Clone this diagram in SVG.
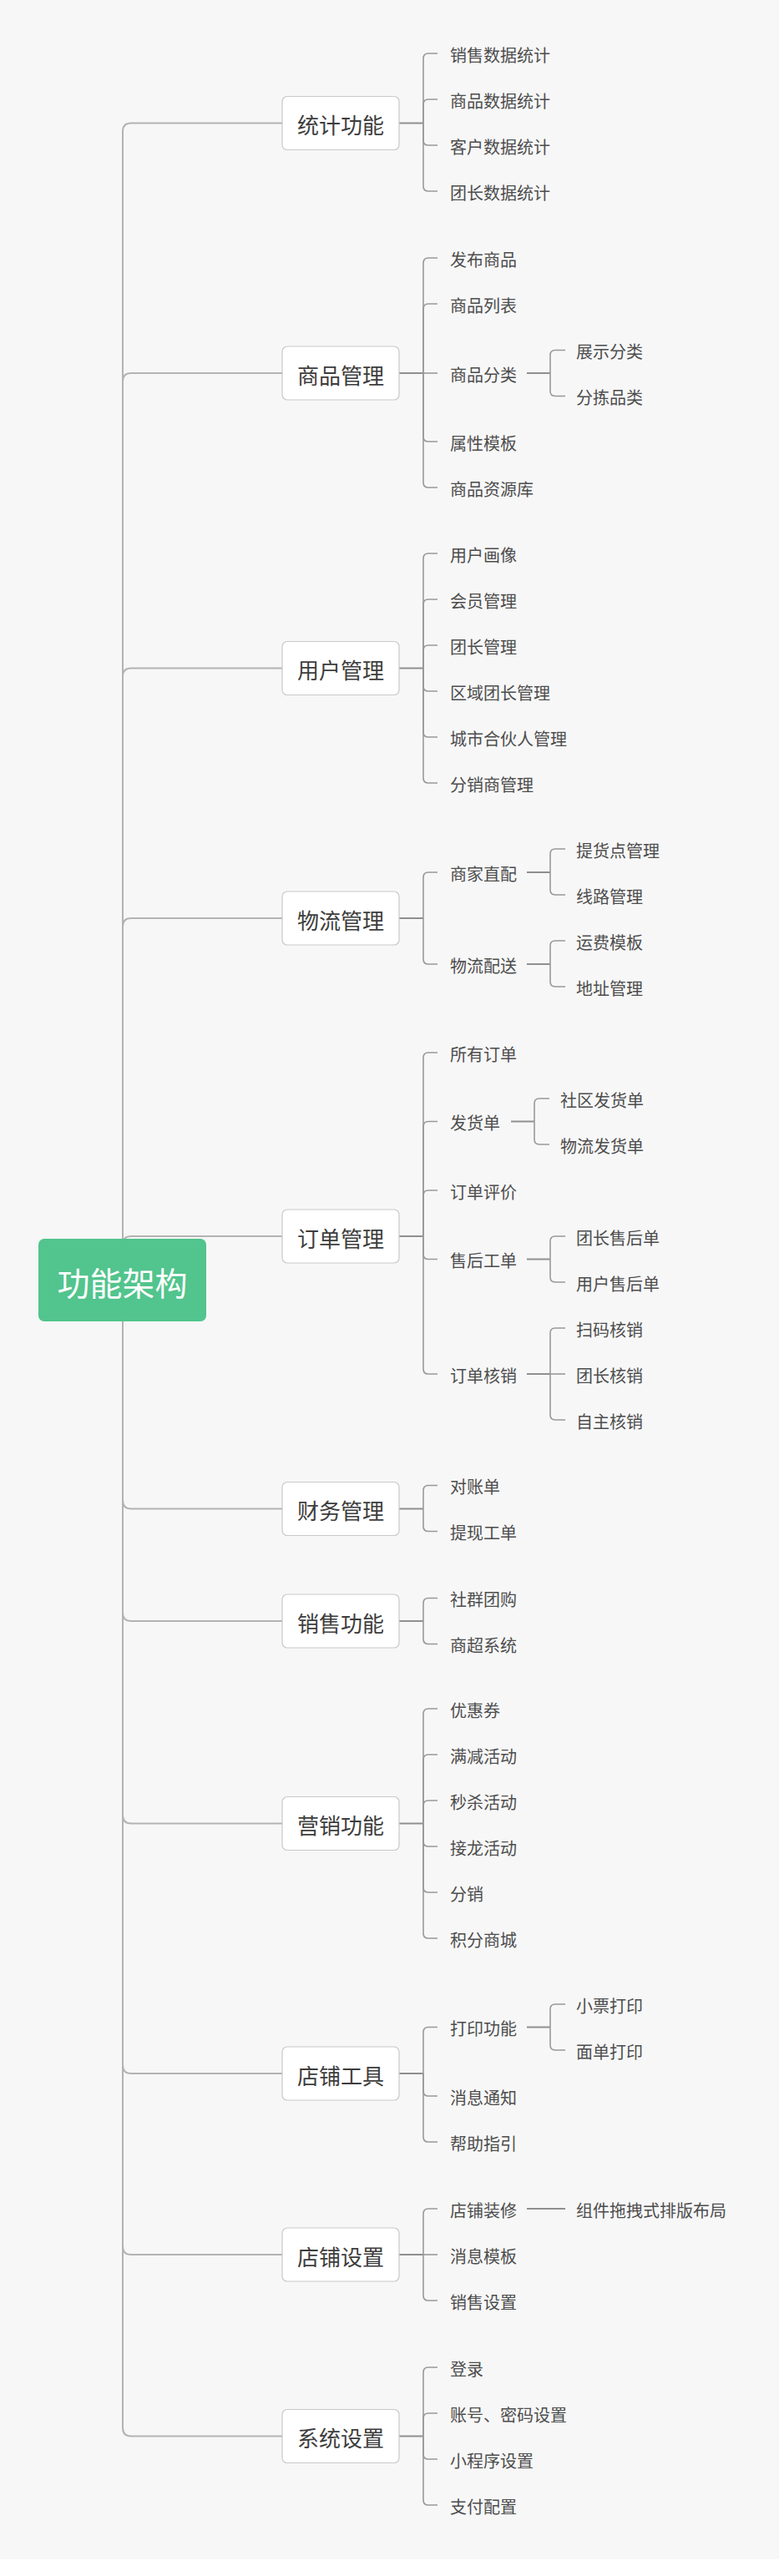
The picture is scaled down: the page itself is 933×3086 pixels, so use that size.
<svg xmlns="http://www.w3.org/2000/svg" width="933" height="3086" viewBox="0 0 933 3086">
<style>
.bg{fill:#f7f7f7}
.trunk{fill:none;stroke:#b3b3b3;stroke-width:2}
.br{fill:none;stroke:#8f8f8f;stroke-width:2}
.hk{fill:none;stroke:#999;stroke-width:1.6}
.box{fill:#fff;stroke:#c9c9c9;stroke-width:1.2}
.root{fill:#52c48d}
.mt{font-family:"Noto Sans CJK SC","Noto Sans",sans-serif;font-size:26px;fill:#3d3d3d;text-anchor:middle}
.lt{font-family:"Noto Sans CJK SC","Noto Sans",sans-serif;font-size:20px;fill:#4d4d4d}
.rt{font-family:"Noto Sans CJK SC","Noto Sans",sans-serif;font-size:39px;fill:#fff;text-anchor:middle}
</style>
<rect x="0" y="0" width="933" height="3086" fill="#fff"/>
<rect class="bg" x="0" y="0" width="933" height="3066"/>
<g id="connectors">
<g class="trunk">
<path d="M147 1533V157.5Q147 147.5 157 147.5H338"/>
<path d="M147 1533V457Q147 447 157 447H338"/>
<path d="M147 1533V810.5Q147 800.5 157 800.5H338"/>
<path d="M147 1533V1110Q147 1100 157 1100H338"/>
<path d="M147 1533V1491Q147 1481 157 1481H338"/>
<path d="M147 1533V1797.5Q147 1807.5 157 1807.5H338"/>
<path d="M147 1533V1932Q147 1942 157 1942H338"/>
<path d="M147 1533V2174.5Q147 2184.5 157 2184.5H338"/>
<path d="M147 1533V2474Q147 2484 157 2484H338"/>
<path d="M147 1533V2691Q147 2701 157 2701H338"/>
<path d="M147 1533V2908.5Q147 2918.5 157 2918.5H338"/>
</g>
<g class="br">
<path d="M478 147.5H507"/><path d="M478 447H507"/><path d="M478 800.5H507"/><path d="M478 1100H507"/><path d="M478 1481H507"/><path d="M478 1807.5H507"/><path d="M478 1942H507"/><path d="M478 2184.5H507"/><path d="M478 2484H507"/><path d="M478 2701H507"/><path d="M478 2918.5H507"/>
<path d="M631 447H659"/><path d="M631 1045H659"/><path d="M631 1155H659"/><path d="M612 1343.5H640"/><path d="M631 1508.5H659"/><path d="M631 1646H659"/><path d="M631 2428.5H659"/><path d="M631 2646H677"/>
</g>
<g class="hk">
<path d="M507 147.5V70Q507 64 513 64H524"/>
<path d="M507 147.5V125Q507 119 513 119H524"/>
<path d="M507 147.5V168Q507 174 513 174H524"/>
<path d="M507 147.5V223Q507 229 513 229H524"/>
<path d="M507 447V315Q507 309 513 309H524"/>
<path d="M507 447V370Q507 364 513 364H524"/>
<path d="M507 447H524"/>
<path d="M507 447V523Q507 529 513 529H524"/>
<path d="M507 447V578Q507 584 513 584H524"/>
<path d="M659 447V425.5Q659 419.5 665 419.5H677"/>
<path d="M659 447V468.5Q659 474.5 665 474.5H677"/>
<path d="M507 800.5V669Q507 663 513 663H524"/>
<path d="M507 800.5V724Q507 718 513 718H524"/>
<path d="M507 800.5V779Q507 773 513 773H524"/>
<path d="M507 800.5V822Q507 828 513 828H524"/>
<path d="M507 800.5V877Q507 883 513 883H524"/>
<path d="M507 800.5V932Q507 938 513 938H524"/>
<path d="M507 1100V1051Q507 1045 513 1045H524"/>
<path d="M507 1100V1149Q507 1155 513 1155H524"/>
<path d="M659 1045V1023Q659 1017 665 1017H677"/>
<path d="M659 1045V1066Q659 1072 665 1072H677"/>
<path d="M659 1155V1133Q659 1127 665 1127H677"/>
<path d="M659 1155V1176Q659 1182 665 1182H677"/>
<path d="M507 1481V1267Q507 1261 513 1261H524"/>
<path d="M507 1481V1349.5Q507 1343.5 513 1343.5H524"/>
<path d="M507 1481V1432Q507 1426 513 1426H524"/>
<path d="M507 1481V1502.5Q507 1508.5 513 1508.5H524"/>
<path d="M507 1481V1640Q507 1646 513 1646H524"/>
<path d="M640 1343.5V1322Q640 1316 646 1316H658"/>
<path d="M640 1343.5V1365Q640 1371 646 1371H658"/>
<path d="M659 1508.5V1487Q659 1481 665 1481H677"/>
<path d="M659 1508.5V1530Q659 1536 665 1536H677"/>
<path d="M659 1646V1597Q659 1591 665 1591H677"/>
<path d="M659 1646H677"/>
<path d="M659 1646V1695Q659 1701 665 1701H677"/>
<path d="M507 1807.5V1785.5Q507 1779.5 513 1779.5H524"/>
<path d="M507 1807.5V1828.5Q507 1834.5 513 1834.5H524"/>
<path d="M507 1942V1920.5Q507 1914.5 513 1914.5H524"/>
<path d="M507 1942V1963.5Q507 1969.5 513 1969.5H524"/>
<path d="M507 2184.5V2053Q507 2047 513 2047H524"/>
<path d="M507 2184.5V2108Q507 2102 513 2102H524"/>
<path d="M507 2184.5V2163Q507 2157 513 2157H524"/>
<path d="M507 2184.5V2206Q507 2212 513 2212H524"/>
<path d="M507 2184.5V2261Q507 2267 513 2267H524"/>
<path d="M507 2184.5V2316Q507 2322 513 2322H524"/>
<path d="M507 2484V2434.5Q507 2428.5 513 2428.5H524"/>
<path d="M507 2484V2505Q507 2511 513 2511H524"/>
<path d="M507 2484V2560Q507 2566 513 2566H524"/>
<path d="M659 2428.5V2407Q659 2401 665 2401H677"/>
<path d="M659 2428.5V2450Q659 2456 665 2456H677"/>
<path d="M507 2701V2652Q507 2646 513 2646H524"/>
<path d="M507 2701H524"/>
<path d="M507 2701V2750Q507 2756 513 2756H524"/>
<path d="M507 2918.5V2842Q507 2836 513 2836H524"/>
<path d="M507 2918.5V2897Q507 2891 513 2891H524"/>
<path d="M507 2918.5V2940Q507 2946 513 2946H524"/>
<path d="M507 2918.5V2995Q507 3001 513 3001H524"/>
</g>
</g>
<g id="root"><rect class="root" x="46" y="1484" width="201" height="99" rx="7"/><text class="rt" x="146.5" y="1552">功能架构</text></g>
<g id="n-tongji"><rect class="box" x="338" y="115.5" width="140" height="64" rx="6"/><text class="mt" x="408" y="160">统计功能</text>
<text class="lt" x="539" y="73.5">销售数据统计</text><text class="lt" x="539" y="128.5">商品数据统计</text><text class="lt" x="539" y="183.5">客户数据统计</text><text class="lt" x="539" y="238.5">团长数据统计</text></g>
<g id="n-shangpin"><rect class="box" x="338" y="415" width="140" height="64" rx="6"/><text class="mt" x="408" y="459.5">商品管理</text>
<text class="lt" x="539" y="318.5">发布商品</text><text class="lt" x="539" y="373.5">商品列表</text><text class="lt" x="539" y="456.5">商品分类</text><text class="lt" x="539" y="538.5">属性模板</text><text class="lt" x="539" y="593.5">商品资源库</text>
<text class="lt" x="690" y="429">展示分类</text><text class="lt" x="690" y="484">分拣品类</text></g>
<g id="n-yonghu"><rect class="box" x="338" y="768.5" width="140" height="64" rx="6"/><text class="mt" x="408" y="813">用户管理</text>
<text class="lt" x="539" y="672.5">用户画像</text><text class="lt" x="539" y="727.5">会员管理</text><text class="lt" x="539" y="782.5">团长管理</text><text class="lt" x="539" y="837.5">区域团长管理</text><text class="lt" x="539" y="892.5">城市合伙人管理</text><text class="lt" x="539" y="947.5">分销商管理</text></g>
<g id="n-wuliu"><rect class="box" x="338" y="1068" width="140" height="64" rx="6"/><text class="mt" x="408" y="1112.5">物流管理</text>
<text class="lt" x="539" y="1054.5">商家直配</text><text class="lt" x="539" y="1164.5">物流配送</text>
<text class="lt" x="690" y="1026.5">提货点管理</text><text class="lt" x="690" y="1081.5">线路管理</text><text class="lt" x="690" y="1136.5">运费模板</text><text class="lt" x="690" y="1191.5">地址管理</text></g>
<g id="n-dingdan"><rect class="box" x="338" y="1449" width="140" height="64" rx="6"/><text class="mt" x="408" y="1493.5">订单管理</text>
<text class="lt" x="539" y="1270.5">所有订单</text><text class="lt" x="539" y="1353">发货单</text><text class="lt" x="539" y="1435.5">订单评价</text><text class="lt" x="539" y="1518">售后工单</text><text class="lt" x="539" y="1655.5">订单核销</text>
<text class="lt" x="671" y="1325.5">社区发货单</text><text class="lt" x="671" y="1380.5">物流发货单</text>
<text class="lt" x="690" y="1490.5">团长售后单</text><text class="lt" x="690" y="1545.5">用户售后单</text>
<text class="lt" x="690" y="1600.5">扫码核销</text><text class="lt" x="690" y="1655.5">团长核销</text><text class="lt" x="690" y="1710.5">自主核销</text></g>
<g id="n-caiwu"><rect class="box" x="338" y="1775.5" width="140" height="64" rx="6"/><text class="mt" x="408" y="1820">财务管理</text>
<text class="lt" x="539" y="1789">对账单</text><text class="lt" x="539" y="1844">提现工单</text></g>
<g id="n-xiaoshou"><rect class="box" x="338" y="1910" width="140" height="64" rx="6"/><text class="mt" x="408" y="1954.5">销售功能</text>
<text class="lt" x="539" y="1924">社群团购</text><text class="lt" x="539" y="1979">商超系统</text></g>
<g id="n-yingxiao"><rect class="box" x="338" y="2152.5" width="140" height="64" rx="6"/><text class="mt" x="408" y="2197">营销功能</text>
<text class="lt" x="539" y="2056.5">优惠券</text><text class="lt" x="539" y="2111.5">满减活动</text><text class="lt" x="539" y="2166.5">秒杀活动</text><text class="lt" x="539" y="2221.5">接龙活动</text><text class="lt" x="539" y="2276.5">分销</text><text class="lt" x="539" y="2331.5">积分商城</text></g>
<g id="n-gongju"><rect class="box" x="338" y="2452" width="140" height="64" rx="6"/><text class="mt" x="408" y="2496.5">店铺工具</text>
<text class="lt" x="539" y="2438">打印功能</text><text class="lt" x="539" y="2520.5">消息通知</text><text class="lt" x="539" y="2575.5">帮助指引</text>
<text class="lt" x="690" y="2410.5">小票打印</text><text class="lt" x="690" y="2465.5">面单打印</text></g>
<g id="n-dianpu"><rect class="box" x="338" y="2669" width="140" height="64" rx="6"/><text class="mt" x="408" y="2713.5">店铺设置</text>
<text class="lt" x="539" y="2655.5">店铺装修</text><text class="lt" x="539" y="2710.5">消息模板</text><text class="lt" x="539" y="2765.5">销售设置</text>
<text class="lt" x="690" y="2655.5">组件拖拽式排版布局</text></g>
<g id="n-xitong"><rect class="box" x="338" y="2886.5" width="140" height="64" rx="6"/><text class="mt" x="408" y="2931">系统设置</text>
<text class="lt" x="539" y="2845.5">登录</text><text class="lt" x="539" y="2900.5">账号、密码设置</text><text class="lt" x="539" y="2955.5">小程序设置</text><text class="lt" x="539" y="3010.5">支付配置</text></g>
</svg>
